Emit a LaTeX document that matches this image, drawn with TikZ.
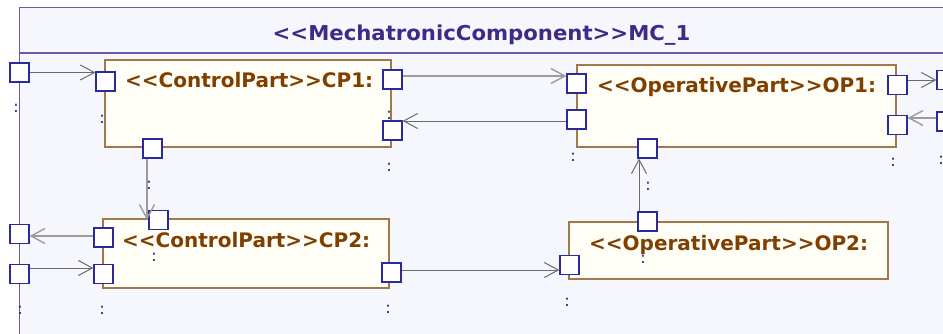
\documentclass[tikz,border=0pt]{standalone}
\usepackage{fontspec}
\setmainfont{DejaVu Sans}[Ligatures=TeXOff]
\newfontfamily\vfont{DejaVu Sans}[Ligatures=TeXOff, FakeStretch=1.035]
\usetikzlibrary{arrows.meta}
\definecolor{frameln}{HTML}{6A5AAA}
\definecolor{framebg}{HTML}{F6F7FD}
\definecolor{titlec}{HTML}{3F2A86}
\definecolor{partbg}{HTML}{FFFEF6}
\definecolor{partln}{HTML}{A0784A}
\definecolor{partt}{HTML}{7F3F00}
\definecolor{portln}{HTML}{2A2A9A}
\definecolor{colc}{HTML}{1A1A8C}
\definecolor{connc}{HTML}{6B6B6B}
\definecolor{connl}{HTML}{9C9C9C}
\begin{document}
\begin{tikzpicture}[x=1pt,y=-1pt,
  partbox/.style={draw=partln, fill=partbg, line width=1.2pt, inner sep=0pt},
  port/.style={draw=portln, fill=white, line width=1.2pt, minimum size=19pt, inner sep=0pt},
  conn/.style={draw=connc, line width=1pt, -{Straight Barb[length=14pt,width=15pt]}},
  connlt/.style={conn, draw=connl, line width=1.4pt},
  ptitle/.style={font=\fontsize{20}{24}\selectfont\bfseries, text=partt, anchor=base west, inner sep=0pt},
  col/.style={font=\fontsize{16}{18}\selectfont, text=colc, inner sep=0pt}]
\useasboundingbox (0,0) rectangle (943,333);
\clip (0,0) rectangle (943,333);
% frame
\fill[white] (0,0) rectangle (943,333);
\node[draw=frameln, fill=framebg, line width=1.3pt, minimum width=927pt, minimum height=353pt, inner sep=0pt, anchor=north west] (mc) at (19,7) {};
\draw[frameln, line width=1.2pt] (mc.north west |- 0,53) -- (mc.north east |- 0,53);
\node[font=\vfont\fontsize{20.5}{24}\selectfont\bfseries, text=titlec, anchor=base, inner sep=0pt] (title) at (481.5,40) {<<MechatronicComponent>>MC\_1};
% parts
\node[partbox, minimum width=286pt, minimum height=87pt] (cp1) at (248,103.5) {};
\node[partbox, minimum width=319pt, minimum height=82pt] (op1) at (736.5,106) {};
\node[partbox, minimum width=286pt, minimum height=69pt] (cp2) at (246,253.5) {};
\node[partbox, minimum width=319pt, minimum height=57pt] (op2) at (728.5,250.5) {};
\node[ptitle] (cp1t) at (125,87) {<<ControlPart>>CP1:};
\node[ptitle] (op1t) at (597,92) {<<OperativePart>>OP1:};
\node[ptitle] (cp2t) at (122,247) {<<ControlPart>>CP2:};
\node[ptitle] (op2t) at (589,250) {<<OperativePart>>OP2:};
% port labels
\foreach \px/\py [count=\i] in {16/108, 102/119, 389/115, 389/167, 149/185, 573/157, 648/186, 893/162, 941/160, 154/257, 643/259, 20/310, 102/310, 388/309, 567/302}
  \node[col] (lab\i) at (\px,\py) {:};
% ports
\node[port] (mcl1) at (19.5,72.5) {};
\node[port] (mcl2) at (19.5,234) {};
\node[port] (mcl3) at (19.5,274) {};
\node[port] (mcr1) at (946.5,80) {};
\node[port] (mcr2) at (946.5,121.5) {};
\node[port] (cp1l) at (105.5,81.5) {};
\node[port] (cp1b) at (152.5,148.5) {};
\node[port] (cp1o1) at (392.5,79.5) {};
\node[port] (cp1o2) at (392.5,130.5) {};
\node[port] (op1i1) at (576.5,83.5) {};
\node[port] (op1i2) at (576.5,119.5) {};
\node[port] (op1b) at (647.5,148.5) {};
\node[port] (op1o1) at (897.5,85) {};
\node[port] (op1o2) at (897.5,125) {};
\node[port] (cp2l1) at (103.5,237.5) {};
\node[port] (cp2l2) at (103.5,274) {};
\node[port] (cp2top) at (158.5,220) {};
\node[port] (cp2r) at (391.5,272.5) {};
\node[port] (op2l) at (569.5,265) {};
\node[port] (op2top) at (647.5,221.5) {};
% connectors
\draw[conn] (mcl1.east) -- (mcl1.east -| cp1l.west);
\draw[connlt] ([yshift=3.5pt]cp1o1.east) -- ([yshift=3.5pt]cp1o1.east -| op1i1.west);
\draw[conn] ([yshift=-1.5pt]op1i2.west) -- ([yshift=-1.5pt]op1i2.west -| cp1o2.east);
\draw[conn] (op1o1.east |- mcr1.west) -- (mcr1.west);
\draw[connlt] ([yshift=3.5pt]mcr2.west) -- ([yshift=3.5pt]mcr2.west -| op1o2.east);
\draw[connlt] ([xshift=-5.5pt]cp1b.south) -- ([xshift=-5.5pt]cp1b.south |- cp2top.center);
\draw[connlt] ([yshift=1.5pt]cp2l1.west) -- ([yshift=1.5pt]cp2l1.west -| mcl2.east);
\draw[conn] ([yshift=6pt]mcl3.east) -- ([yshift=6pt]mcl3.east -| cp2l2.west);
\draw[conn] ([yshift=2.5pt]cp2r.east) -- ([yshift=2.5pt]cp2r.east -| op2l.west);
\draw[conn] ([xshift=-8.5pt]op2top.north) -- ([xshift=-8.5pt]op2top.north |- op1b.south);
\end{tikzpicture}
\end{document}
